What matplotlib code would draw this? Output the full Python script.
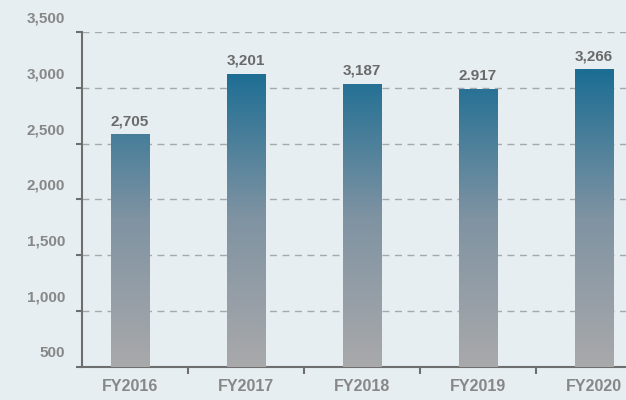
import matplotlib.pyplot as plt
import numpy as np
from matplotlib.colors import LinearSegmentedColormap
from matplotlib.transforms import ScaledTranslation

# data
years = ["FY2016", "FY2017", "FY2018", "FY2019", "FY2020"]
bar_values = [2584, 3126, 3036, 2985, 3164]        # bar heights as drawn
bar_labels = ["2,705", "3,201", "3,187", "2.917", "3,266"]  # printed labels
yticks = [500, 1000, 1500, 2000, 2500, 3000, 3500]

bg = "#e6eef2"
plt.rcParams["font.family"] = ["Liberation Sans", "DejaVu Sans"]

fig = plt.figure(figsize=(6.26, 4.0), dpi=100, facecolor=bg)
ax = fig.add_axes([0.131, 0.083, 0.869, 0.837], facecolor=bg)

x = np.arange(len(years))
bars = ax.bar(x, bar_values, width=0.33, color="none", bottom=0, zorder=3)

cmap = LinearSegmentedColormap.from_list("g", ["#a9a9ab", "#7f93a2", "#1b6d93"])
grad = np.linspace(0, 1, 256).reshape(-1, 1)
top = max(bar_values)
for b in bars:
    x0 = b.get_x()
    im = ax.imshow(grad, cmap=cmap, origin="lower", aspect="auto",
                   extent=(x0, x0 + b.get_width(), 500, top), zorder=3)
    im.set_clip_path(b)

for xi, v, lab in zip(x, bar_values, bar_labels):
    ax.text(xi, v + 55, lab, ha="center", va="bottom", fontsize=11,
            fontweight="bold", color="#6a6a6a", zorder=4)

ax.set_xlim(-0.414, 4.276)
ax.set_ylim(500, 3500)
ax.set_yticks(yticks)
ax.set_yticklabels([f"{t:,}" for t in yticks])
ax.set_xticks(x)
ax.set_xticklabels(years)
ax.set_xticks(x[:-1] + 0.5, minor=True)

for y in yticks[1:]:
    ax.axhline(y, color="#a3a9ad", lw=1, ls=(0, (5, 4)), zorder=1)

for s in ["top", "right"]:
    ax.spines[s].set_visible(False)
for s in ["left", "bottom"]:
    ax.spines[s].set_color("#6e6e6e")
    ax.spines[s].set_linewidth(1.5)

ax.tick_params(axis="y", length=4, width=1.5, color="#6e6e6e", pad=8,
               labelsize=11, labelcolor="#878787")
ax.tick_params(axis="x", which="major", length=0, pad=9,
               labelsize=11.5, labelcolor="#878787")
ax.tick_params(axis="x", which="minor", length=5, width=1.5, color="#6e6e6e")
for lab in ax.get_yticklabels() + ax.get_xticklabels():
    lab.set_fontweight("bold")
for lab in ax.get_yticklabels():
    lab.set_transform(lab.get_transform() + ScaledTranslation(0, 0.15, fig.dpi_scale_trans))

fig.savefig("out.png", dpi=100, facecolor=bg)
